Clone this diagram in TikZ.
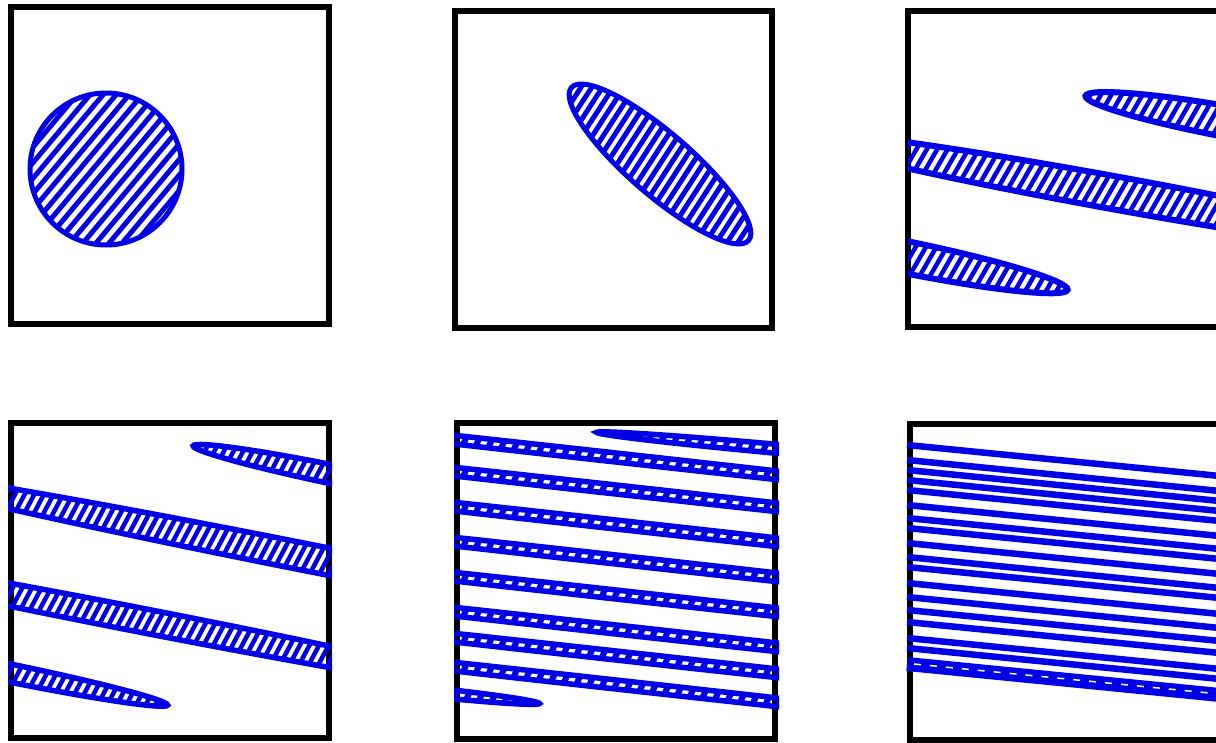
\documentclass[tikz,border=0pt]{standalone}
\definecolor{mapblue}{RGB}{0,0,230}
% hatched ellipse: cx, cy, half length, half width, tilt, hatch turn, hatch spacing
\newcommand\hatchblob[7]{%
  \begin{scope}
    \clip[rotate around={#5:(#1,#2)}] (#1,#2) ellipse [x radius=#3pt, y radius=#4pt];
    \begin{scope}[shift={(#1,#2)}, rotate=#6]
      \foreach \k in {-45,...,45}
        \draw[hatch] (\k*#7,-420) -- (\k*#7,420);
    \end{scope}
  \end{scope}
  \draw[blob, rotate around={#5:(#1,#2)}] (#1,#2) ellipse [x radius=#3pt, y radius=#4pt];}
\begin{document}
\begin{tikzpicture}[x=1pt,y=-1pt,
  box/.style={line width=6.5pt,line join=miter},
  blob/.style={draw=mapblue,line width=5pt},
  hatch/.style={mapblue,line width=5pt},
  fibre/.style={mapblue,line width=6.5pt}]
  \clip (0,0) rectangle (1216,742);
  \fill[white] (0,0) rectangle (1216,742);
  % top row
  \draw[box] (11,7) rectangle (329,324);
  \hatchblob{106}{169}{76}{76}{0}{-40}{10}
  \draw[box] (455,11) rectangle (772,328);
  \hatchblob{660}{164}{117}{31}{-40.8}{-33}{9}
  \draw[box] (908,11) rectangle (1226,327);
  \begin{scope}[blob/.append style={line width=6pt},hatch/.append style={line width=4.5pt}]
    \clip (908,11) rectangle (1226,327);
    \hatchblob{1240}{124}{157}{15.5}{-10.3}{-30}{9}
    \hatchblob{1110}{192}{330}{16.5}{-10.3}{-30}{9}
    \hatchblob{900}{256}{171}{16}{-11.4}{-30}{9}
  \end{scope}
  % bottom row
  \draw[box] (11,423) rectangle (329,738);
  \begin{scope}[blob/.append style={line width=5.5pt},hatch/.append style={line width=4.5pt}]
    \clip (8,423) rectangle (332,738);
    \hatchblob{345}{477}{155}{9.5}{-11.6}{-28}{8.5}
    \hatchblob{300}{556}{450}{13.5}{-11.2}{-28}{8.5}
    \hatchblob{140}{620}{400}{12}{-11}{-28}{8.5}
    \hatchblob{0}{671}{171}{9}{-11.5}{-28}{8.5}
  \end{scope}
  \draw[box] (457,423) rectangle (775,739);
  \begin{scope}[blob/.append style={line width=5.5pt},hatch/.append style={line width=6pt}]
    \clip (454,423) rectangle (779,739);
    \hatchblob{790}{450}{194}{4.5}{-5.2}{-25}{12}
    \foreach \yl in {440,472,507,542,577,612,638,667}{
      \pgfmathsetmacro\yc{\yl+17.5}
      \hatchblob{616}{\yc}{600}{4.5}{-6.3}{-25}{12}
    }
    \hatchblob{430}{692}{110}{4.5}{-6}{-25}{12}
  \end{scope}
  \draw[box] (910,424) rectangle (1228,740);
  \begin{scope}
    \clip (904,424) rectangle (1228,740);
    \foreach \yl in {445,460,470,480,490,505,518,528,543,557,567,583,597,610,622,638,648}
      \draw[fibre] (907,\yl) -- ++(323,32);
    \draw[fibre,line width=14pt] (907,664) -- ++(323,32);
    \draw[white,line width=1.5pt,dash pattern=on 7pt off 9pt] (914,664) -- ++(316,31);
  \end{scope}
\end{tikzpicture}
\end{document}
